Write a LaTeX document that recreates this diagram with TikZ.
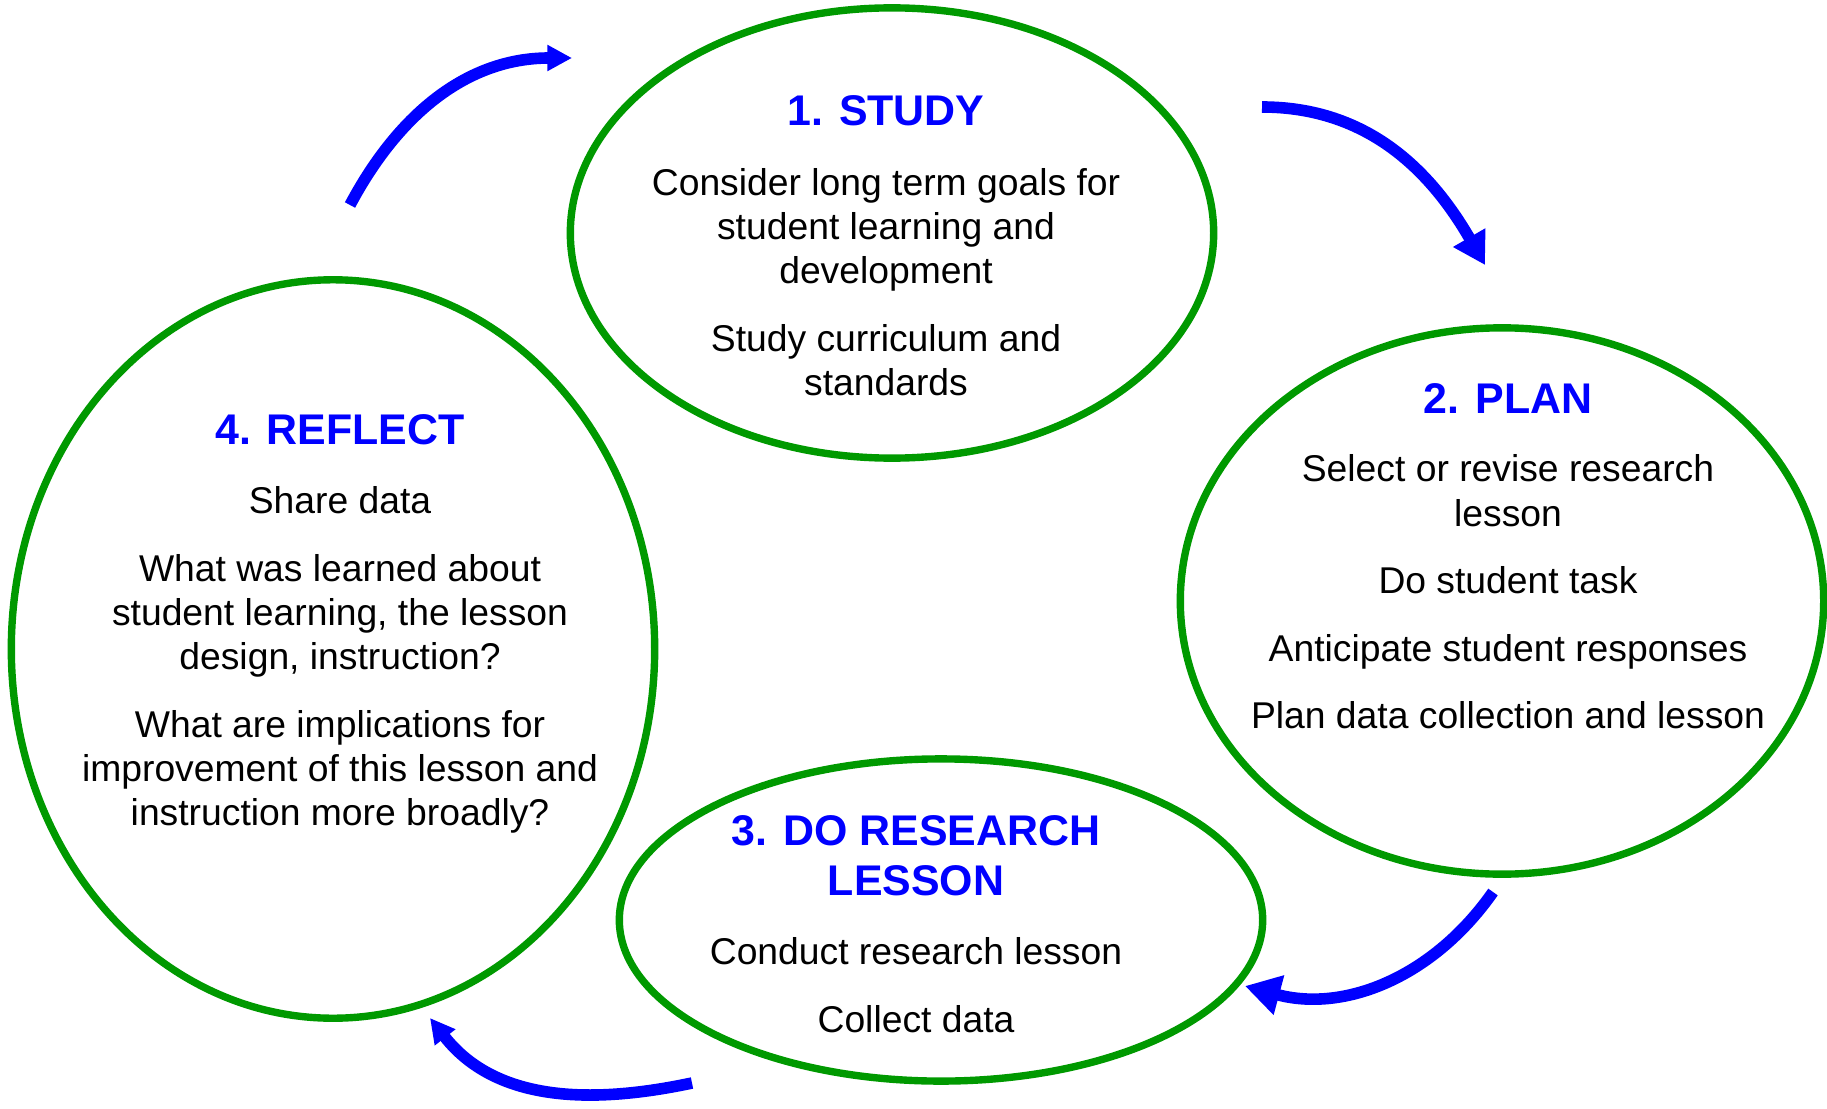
\documentclass[tikz,border=0pt]{standalone}
\usepackage{fontspec}
\setmainfont{Liberation Sans}
\usepackage{tikz}
\usetikzlibrary{ shapes.geometric, % For the ellipses
                 arrows.meta,      % For the triangle tips
                 positioning,      % For easy node-relative placements
               }
\definecolor{cyclegreen}{RGB}{0,153,0}
\definecolor{cycleblue}{RGB}{0,0,255}
\tikzset{
  phase/.style={draw=cyclegreen, line width=2.1pt, ellipse, inner sep=0pt},
  phasetitle/.style={text=cycleblue, align=center, font=\fontsize{12.2}{14.2}\selectfont\bfseries},
  phasetext/.style={align=center, font=\fontsize{10.6}{12.6}\selectfont},
  cyclearrow/.style={draw=cycleblue, line width=3.3pt, -{Triangle[length=9pt,width=10pt]}},
}

\begin{document}
\begin{tikzpicture}[x=0.01cm, y=0.01cm] % one unit = one pixel of the 1827x1108 sheet
  \useasboundingbox (0,0) rectangle (1827,1108);

  \node[phase, minimum width=6.43cm, minimum height=4.5cm] (study) at (892,875) {};
  \node[phase, minimum width=6.43cm, minimum height=5.46cm] (plan) at (1502,507) {};
  \node[phase, minimum width=6.43cm, minimum height=3.22cm] (doresearch) at (941,188) {};
  \node[phase, minimum width=6.43cm, minimum height=7.38cm] (reflect) at (333,459) {};

  \node[phasetitle] (study_t) at (886,997) {1. STUDY};
  \node[phasetext] (study_b) at (886,826) {Consider long term goals for\\ student learning and\\ development\\[6.6pt]
    Study curriculum and\\ standards};

  \node[phasetitle] (plan_t) at (1508,709) {2. PLAN};
  \node[phasetext] (plan_b) at (1508,516) {Select or revise research\\ lesson\\[6.6pt]
    Do student task\\[6.6pt] Anticipate student responses\\[6.6pt] Plan data collection and lesson};

  \node[phasetitle] (doresearch_t) at (916,252) {3. DO RESEARCH\\ LESSON};
  \node[phasetext] (doresearch_b) at (916,123) {Conduct research lesson\\[6.6pt] Collect data};

  \node[phasetitle] (reflect_t) at (340,678) {4. REFLECT};
  \node[phasetext] (reflect_b) at (340,448) {Share data\\[6.6pt]
    What was learned about\\ student learning, the lesson\\ design, instruction?\\[6.6pt]
    What are implications for\\ improvement of this lesson and\\ instruction more broadly?};

  % free ends of the cycle arrows
  \coordinate (a_from) at (350,903);
  \coordinate (a_to) at (572,1050);
  \coordinate (b_from) at (1262,1001);
  \coordinate (b_to) at (1485,843);
  \coordinate (c_from) at (1493,216);
  \coordinate (c_to) at (1245,122);
  \coordinate (d_from) at (692,25);
  \coordinate (d_to) at (430,90);

  \draw[cyclearrow, -{Triangle[length=7pt,width=7pt]}] (a_from) to[out=62, in=180] (a_to);
  \draw[cyclearrow] (b_from) to[out=0, in=120] (b_to);
  \draw[cyclearrow, -{Triangle[length=10pt,width=11pt]}] (c_from) to[out=235, in=-15] (c_to);
  \draw[cyclearrow, -{Triangle[length=7pt,width=7pt]}] (d_from) to[out=192, in=-52] (d_to);

\end{tikzpicture}
\end{document}
